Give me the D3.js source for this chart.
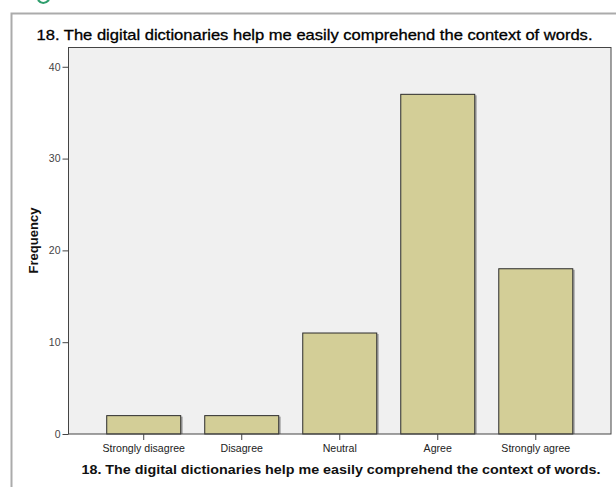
<!DOCTYPE html>
<html>
<head>
<meta charset="utf-8">
<script src="https://cdn.jsdelivr.net/npm/d3@7"></script>
<style>
  html, body { margin: 0; padding: 0; background: #ffffff; }
  svg { display: block; }
  text { font-family: "Liberation Sans", Arial, sans-serif; }
</style>
</head>
<body>
<svg id="chart" width="616" height="487"></svg>
<script>
const categories = ["Strongly disagree", "Disagree", "Neutral", "Agree", "Strongly agree"];
const frequencies = [2, 2, 11, 37, 18];
const yTicks = [0, 10, 20, 30, 40];
const chartTitle = "18. The digital dictionaries help me easily comprehend the context of words.";
const xTitle = "18. The digital dictionaries help me easily comprehend the context of words.";
const yTitle = "Frequency";

const svg = d3.select("#chart");

// small green fragment at the very top (cropped glyph from surrounding page)
svg.append("path")
  .attr("d", "M38,0 Q43,6 49,0")
  .attr("fill", "none")
  .attr("stroke", "#2e9e6c")
  .attr("stroke-width", 2.2);

// outer frame
svg.append("rect")
  .attr("x", 11.5).attr("y", 13.5)
  .attr("width", 640).attr("height", 520)
  .attr("fill", "#ffffff")
  .attr("stroke", "#ababab")
  .attr("stroke-width", 2);

const plot = { left: 68.5, top: 47.5, right: 611, bottom: 434 };

const y = d3.scaleLinear()
  .domain([0, 42.1])
  .range([plot.bottom, plot.top]);

const x = d3.scaleBand()
  .domain(categories)
  .range([plot.left, plot.right])
  .paddingInner(0.245)
  .paddingOuter(0.39);

// plot background
svg.append("rect")
  .attr("x", plot.left).attr("y", plot.top)
  .attr("width", plot.right - plot.left)
  .attr("height", plot.bottom - plot.top)
  .attr("fill", "#f0f0f0");

// bar shadows
svg.append("g").selectAll("rect")
  .data(frequencies)
  .join("rect")
  .attr("x", (d, i) => x(categories[i]) + x.bandwidth())
  .attr("y", d => y(d) + 1)
  .attr("width", 2)
  .attr("height", d => plot.bottom - y(d) - 1)
  .attr("fill", "#a8a8a8");

// bars
svg.append("g").selectAll("rect")
  .data(frequencies)
  .join("rect")
  .attr("x", (d, i) => x(categories[i]))
  .attr("y", d => y(d))
  .attr("width", x.bandwidth())
  .attr("height", d => plot.bottom - y(d))
  .attr("fill", "#d3ce97")
  .attr("stroke", "#2b2b2b")
  .attr("stroke-width", 1);

// plot border
svg.append("rect")
  .attr("x", plot.left).attr("y", plot.top)
  .attr("width", plot.right - plot.left)
  .attr("height", plot.bottom - plot.top)
  .attr("fill", "none")
  .attr("stroke", "#444")
  .attr("stroke-width", 1);

// y axis
const yAxis = svg.append("g")
  .attr("transform", `translate(${plot.left},0)`)
  .call(d3.axisLeft(y).tickValues(yTicks).tickSize(6).tickPadding(2).tickFormat(d3.format("d")));
yAxis.select(".domain").remove();
yAxis.selectAll(".tick line").attr("stroke", "#444");
yAxis.selectAll(".tick text")
  .attr("fill", "#444")
  .style("font-size", "10.5px")
  .style("font-family", "'Liberation Sans', Arial, sans-serif");

// x axis
const xAxis = svg.append("g")
  .attr("transform", `translate(0,${plot.bottom})`)
  .call(d3.axisBottom(x).tickSize(6).tickPadding(4));
xAxis.select(".domain").remove();
xAxis.selectAll(".tick line").attr("stroke", "#444");
xAxis.selectAll(".tick text")
  .attr("fill", "#222")
  .style("font-size", "10.6px")
  .style("font-family", "'Liberation Sans', Arial, sans-serif");

// titles
svg.append("text")
  .attr("x", 36.5).attr("y", 40)
  .attr("textLength", 556)
  .attr("lengthAdjust", "spacingAndGlyphs")
  .style("font-size", "14.5px")
  .attr("fill", "#000")
  .attr("stroke", "#000")
  .attr("stroke-width", 0.3)
  .text(chartTitle);

svg.append("text")
  .attr("x", 81.5).attr("y", 474)
  .attr("textLength", 519)
  .attr("lengthAdjust", "spacingAndGlyphs")
  .style("font-size", "12px")
  .style("font-weight", "bold")
  .attr("fill", "#111")
  .text(xTitle);

svg.append("text")
  .attr("transform", "translate(37.5,240.5) rotate(-90)")
  .attr("text-anchor", "middle")
  .style("font-size", "13px")
  .style("font-weight", "bold")
  .attr("fill", "#111")
  .text(yTitle);
</script>
</body>
</html>
